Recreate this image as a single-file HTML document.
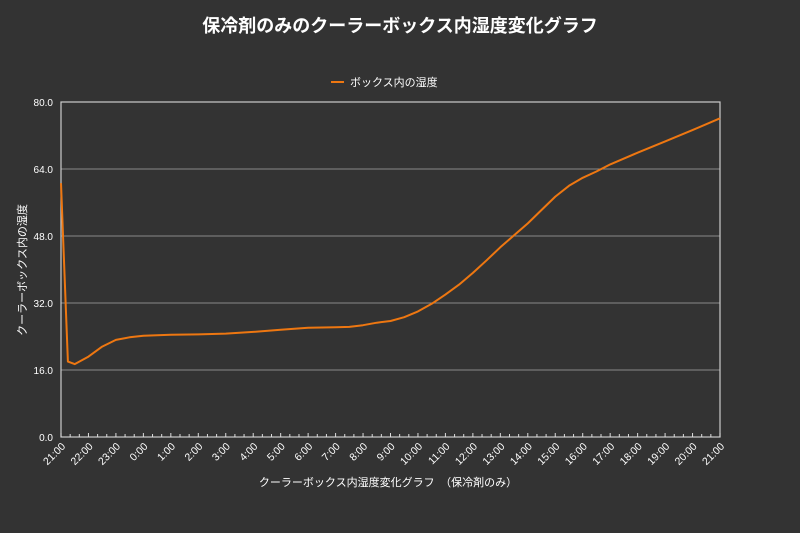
<!DOCTYPE html>
<html><head><meta charset="utf-8"><style>
html,body{margin:0;padding:0;background:#333333;}
svg{display:block;font-family:"Liberation Sans","Noto Sans CJK JP",sans-serif;}
</style></head><body>
<svg id="chart" width="800" height="533" viewBox="0 0 800 533" xmlns="http://www.w3.org/2000/svg">
<rect width="800" height="533" fill="#333333"/>
<text x="400" y="32" fill="#ffffff" font-size="18" font-weight="bold" text-anchor="middle">保冷剤のみのクーラーボックス内湿度変化グラフ</text>
<g>
<line x1="331" y1="82" x2="344" y2="82" stroke="#ee7711" stroke-width="2"/>
<text x="350" y="86" fill="#ffffff" font-size="11">ボックス内の湿度</text>
</g>
<g id="grid"></g>
<g id="axes"></g>
<g id="series"></g>
<text transform="translate(26,270) rotate(-90)" fill="#ffffff" font-size="11" text-anchor="middle">クーラーボックス内の湿度</text>
<text x="388" y="486" fill="#ffffff" font-size="11" text-anchor="middle">クーラーボックス内湿度変化グラフ　（保冷剤のみ）</text>
</svg>
<script>
const hourOffsets = [0,0.25,0.5,1,1.5,2,2.5,3,4,5,6,7,8,9,10,10.5,11,11.5,12,12.5,13,13.5,14,14.5,15,15.5,16,16.5,17,17.5,18,18.5,19,19.5,20,21,22,23,24];
const humidity = [60.6,18.0,17.4,19.2,21.6,23.2,23.8,24.2,24.4,24.5,24.7,25.1,25.6,26.1,26.2,26.3,26.7,27.3,27.7,28.6,30.0,31.8,34.0,36.4,39.2,42.2,45.3,48.2,51.0,54.2,57.4,60.0,61.9,63.4,65.1,67.9,70.6,73.3,76.1];
const yTicks = [0,16,32,48,64,80];
const xTickLabels = ["21:00","22:00","23:00","0:00","1:00","2:00","3:00","4:00","5:00","6:00","7:00","8:00","9:00","10:00","11:00","12:00","13:00","14:00","15:00","16:00","17:00","18:00","19:00","20:00","21:00"];

const NS="http://www.w3.org/2000/svg";
const L=61,R=720,T=102,B=437;
const xS=h=>L+(h/24)*(R-L);
const yS=v=>B-(v/80)*(B-T);
function mk(tag,attrs,parent){const e=document.createElementNS(NS,tag);for(const k in attrs)e.setAttribute(k,attrs[k]);parent.appendChild(e);return e;}
const grid=document.getElementById('grid'),axes=document.getElementById('axes'),series=document.getElementById('series');
yTicks.forEach(v=>{
  const y=yS(v);
  const gl=mk('line',{x1:L,x2:R,y1:y,y2:y,stroke:'#8a8a8a','stroke-width':1},grid);
  
  
  const t=mk('text',{x:L-8,y:y+4,fill:'#ffffff','font-size':10,'text-anchor':'end'},axes);
  t.textContent=v.toFixed(1);
  
  
});
const frame=mk('rect',{x:L,y:T,width:R-L,height:B-T,fill:'none',stroke:'#cccccc','stroke-width':1.2},axes);


for(let i=0;i<=72;i++){
  const x=xS(i/3);
  const tk=mk('line',{x1:x,x2:x,y1:B,y2:B-(i%3===0?4:3),stroke:'#dddddd','stroke-width':1},axes);
  
  
}
xTickLabels.forEach((lab,i)=>{
  const x=xS(i);
  const t=mk('text',{transform:`translate(${x+5},${B+10}) rotate(-45)`,fill:'#ffffff','font-size':10.5,'text-anchor':'end'},axes);
  t.textContent=lab;
  
  
});
const pts=hourOffsets.map((h,i)=>xS(h).toFixed(1)+','+yS(humidity[i]).toFixed(1)).join(' ');
const line=mk('polyline',{points:pts,fill:'none',stroke:'#ee7711','stroke-width':2,'stroke-linejoin':'round'},series);


</script>
</body></html>
